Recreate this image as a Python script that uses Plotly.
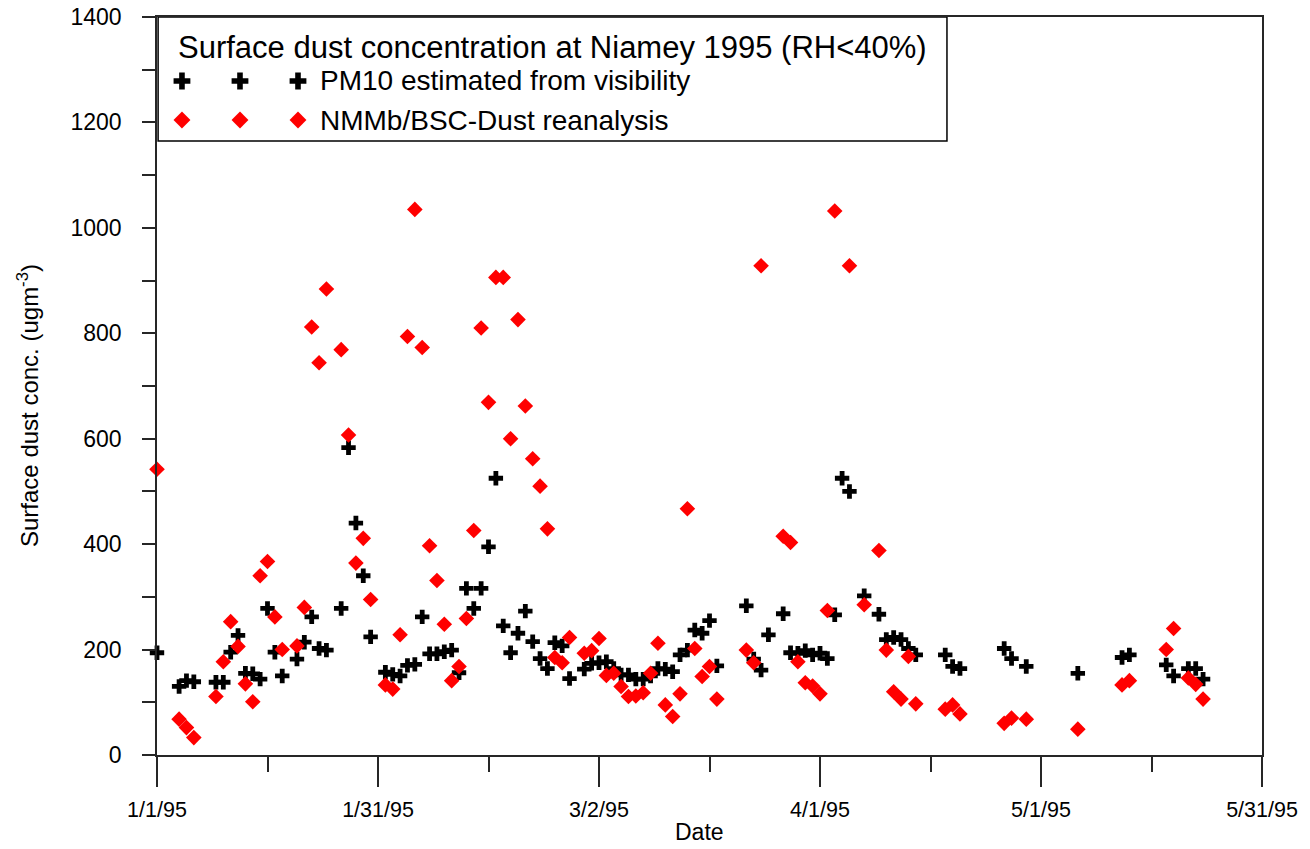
import plotly.graph_objects as go

# ---------------- data ----------------
pm10_dates = [
    "1995-01-01", "1995-01-04", "1995-01-05", "1995-01-06", "1995-01-09", "1995-01-10",
    "1995-01-11", "1995-01-12", "1995-01-13", "1995-01-14", "1995-01-15", "1995-01-16",
    "1995-01-17", "1995-01-18", "1995-01-20", "1995-01-21", "1995-01-22", "1995-01-23",
    "1995-01-24", "1995-01-26", "1995-01-27", "1995-01-28", "1995-01-29", "1995-01-30",
    "1995-02-01", "1995-02-02", "1995-02-03", "1995-02-04", "1995-02-05", "1995-02-06",
    "1995-02-07", "1995-02-08", "1995-02-09", "1995-02-10", "1995-02-11", "1995-02-12",
    "1995-02-13", "1995-02-14", "1995-02-15", "1995-02-16", "1995-02-17", "1995-02-18",
    "1995-02-19", "1995-02-20", "1995-02-21", "1995-02-22", "1995-02-23", "1995-02-24",
    "1995-02-25", "1995-02-26", "1995-02-28", "1995-03-01", "1995-03-02", "1995-03-03",
    "1995-03-04", "1995-03-05", "1995-03-06", "1995-03-07", "1995-03-08", "1995-03-09",
    "1995-03-10", "1995-03-11", "1995-03-12", "1995-03-13", "1995-03-14", "1995-03-15",
    "1995-03-16", "1995-03-17", "1995-03-18", "1995-03-22", "1995-03-23", "1995-03-24",
    "1995-03-25", "1995-03-27", "1995-03-28", "1995-03-29", "1995-03-30", "1995-03-31",
    "1995-04-01", "1995-04-02", "1995-04-03", "1995-04-04", "1995-04-05", "1995-04-07",
    "1995-04-09", "1995-04-10", "1995-04-11", "1995-04-12", "1995-04-13", "1995-04-14",
    "1995-04-18", "1995-04-19", "1995-04-20", "1995-04-26", "1995-04-27", "1995-04-29",
    "1995-05-06", "1995-05-12", "1995-05-13", "1995-05-18", "1995-05-19", "1995-05-21",
    "1995-05-22", "1995-05-23",
]
pm10_values = [
    194, 130, 141, 139, 138, 138,
    195, 227, 155, 154, 144, 278,
    195, 150, 182, 214, 262, 202,
    199, 278, 583, 440, 340, 224,
    157, 153, 150, 170, 172, 262,
    192, 192, 196, 199, 156, 316,
    278, 316, 395, 525, 245, 194,
    231, 273, 215, 183, 164, 213,
    207, 145, 163, 174, 175, 177,
    164, 152, 152, 144, 144, 150,
    164, 163, 158, 190, 199, 237,
    231, 255, 169, 283, 182, 161,
    228, 268, 194, 193, 198, 190,
    193, 183, 266, 525, 500, 302,
    267, 219, 223, 219, 202, 190,
    190, 168, 164, 202, 183, 168,
    155, 185, 190, 171, 150, 164,
    164, 144,
]

model_dates = [
    "1995-01-01", "1995-01-04", "1995-01-05", "1995-01-06", "1995-01-09", "1995-01-10",
    "1995-01-11", "1995-01-12", "1995-01-13", "1995-01-14", "1995-01-15", "1995-01-16",
    "1995-01-17", "1995-01-18", "1995-01-20", "1995-01-21", "1995-01-22", "1995-01-23",
    "1995-01-24", "1995-01-26", "1995-01-27", "1995-01-28", "1995-01-29", "1995-01-30",
    "1995-02-01", "1995-02-02", "1995-02-03", "1995-02-04", "1995-02-05", "1995-02-06",
    "1995-02-07", "1995-02-08", "1995-02-09", "1995-02-10", "1995-02-11", "1995-02-12",
    "1995-02-13", "1995-02-14", "1995-02-15", "1995-02-16", "1995-02-17", "1995-02-18",
    "1995-02-19", "1995-02-20", "1995-02-21", "1995-02-22", "1995-02-23", "1995-02-24",
    "1995-02-25", "1995-02-26", "1995-02-28", "1995-03-01", "1995-03-02", "1995-03-03",
    "1995-03-04", "1995-03-05", "1995-03-06", "1995-03-07", "1995-03-08", "1995-03-09",
    "1995-03-10", "1995-03-11", "1995-03-12", "1995-03-13", "1995-03-14", "1995-03-15",
    "1995-03-16", "1995-03-17", "1995-03-18", "1995-03-22", "1995-03-23", "1995-03-24",
    "1995-03-27", "1995-03-28", "1995-03-29", "1995-03-30", "1995-03-31", "1995-04-01",
    "1995-04-02", "1995-04-03", "1995-04-05", "1995-04-07", "1995-04-09", "1995-04-10",
    "1995-04-11", "1995-04-12", "1995-04-13", "1995-04-14", "1995-04-18", "1995-04-19",
    "1995-04-20", "1995-04-26", "1995-04-27", "1995-04-29", "1995-05-06", "1995-05-12",
    "1995-05-13", "1995-05-18", "1995-05-19", "1995-05-21", "1995-05-22", "1995-05-23",
]
model_values = [
    542, 68, 52, 33, 111, 177,
    253, 206, 135, 101, 340, 367,
    262, 200, 207, 280, 812, 744,
    884, 769, 607, 364, 411, 295,
    133, 125, 228, 794, 1035, 773,
    397, 331, 248, 141, 168, 259,
    426, 810, 669, 906, 906, 600,
    826, 662, 562, 510, 429, 185,
    175, 223, 193, 198, 221, 151,
    155, 130, 111, 112, 118, 155,
    212, 95, 73, 116, 467, 202,
    149, 168, 106, 199, 175, 928,
    415, 403, 177, 137, 131, 116,
    274, 1032, 928, 285, 388, 199,
    120, 106, 187, 97, 87, 95,
    78, 60, 70, 68, 49, 133,
    141, 200, 240, 146, 134, 106,
]

major_tick_dates = ["1995-01-01", "1995-01-31", "1995-03-02", "1995-04-01", "1995-05-01", "1995-05-31"]
major_tick_labels = ["1/1/95", "1/31/95", "3/2/95", "4/1/95", "5/1/95", "5/31/95"]
minor_tick_dates = ["1995-01-16", "1995-02-15", "1995-03-17", "1995-04-16", "1995-05-16"]

legend_title = "Surface dust concentration at Niamey 1995 (RH<40%)"
pm10_name = "PM10 estimated from visibility"
model_name = "NMMb/BSC-Dust reanalysis"
x_title = "Date"
y_title = "Surface dust conc. (ugm<sup>-3</sup>)"

# legend sample marker positions (fractions of the plot area)
legend_sample_x = [0.0226, 0.0751, 0.1276]

FONT = "Liberation Sans, Arial, sans-serif"
AXIS_COLOR = "#262626"

fig = go.Figure()

fig.add_trace(go.Scatter(
    x=pm10_dates, y=pm10_values, mode="markers", name=pm10_name,
    marker=dict(symbol="cross", size=12, color="black", line=dict(width=0)),
    cliponaxis=False, showlegend=False,
))
fig.add_trace(go.Scatter(
    x=model_dates, y=model_values, mode="markers", name=model_name,
    marker=dict(symbol="diamond", size=12, color="#ff0000", line=dict(width=0)),
    cliponaxis=False, showlegend=False,
))

# legend samples on an overlay axis spanning [0, 1]
fig.add_trace(go.Scatter(
    x=legend_sample_x, y=[0.9133] * 3, xaxis="x2", yaxis="y2", mode="markers",
    marker=dict(symbol="cross", size=14, color="black", line=dict(width=0)),
    showlegend=False, hoverinfo="skip", cliponaxis=False,
))
fig.add_trace(go.Scatter(
    x=legend_sample_x, y=[0.8604] * 3, xaxis="x2", yaxis="y2", mode="markers",
    marker=dict(symbol="diamond", size=13, color="#ff0000", line=dict(width=0)),
    showlegend=False, hoverinfo="skip", cliponaxis=False,
))

fig.update_layout(
    width=1310, height=849,
    margin=dict(l=157, r=48, t=17, b=94, pad=0),
    paper_bgcolor="white", plot_bgcolor="white",
    font=dict(family=FONT, color="black"),
    showlegend=False,
    xaxis=dict(
        type="date",
        range=["1995-01-01", "1995-05-31"],
        automargin=False,
        tickmode="array", tickvals=major_tick_dates, ticktext=major_tick_labels,
        ticks="outside", ticklen=30, tickwidth=1.5, tickcolor=AXIS_COLOR,
        minor=dict(tickmode="array", tickvals=minor_tick_dates, ticks="outside",
                   ticklen=15, tickwidth=1.5, tickcolor=AXIS_COLOR, showgrid=False),
        showline=True, linecolor=AXIS_COLOR, linewidth=1.5, mirror=True,
        showgrid=False, zeroline=False,
        tickfont=dict(size=21.5, family=FONT),
        ticklabelstandoff=4,
    ),
    yaxis=dict(
        range=[0, 1400], dtick=200, tick0=0,
        automargin=False,
        ticks="outside", ticklen=13, tickwidth=1.5, tickcolor=AXIS_COLOR,
        minor=dict(dtick=100, ticks="outside", ticklen=13, tickwidth=1.5,
                   tickcolor=AXIS_COLOR, showgrid=False),
        showline=True, linecolor=AXIS_COLOR, linewidth=1.5, mirror=True,
        showgrid=False, zeroline=False,
        tickfont=dict(size=23, family=FONT),
        ticklabelstandoff=16,
    ),
    xaxis2=dict(overlaying="x", range=[0, 1], visible=False, fixedrange=True),
    yaxis2=dict(overlaying="y", range=[0, 1], visible=False, fixedrange=True),
    shapes=[dict(type="rect", xref="paper", yref="paper",
                 x0=0.001, x1=0.7149, y0=0.832, y1=1.0,
                 line=dict(color="black", width=1.5), layer="below")],
    annotations=[
        dict(text=legend_title, xref="paper", yref="paper", x=0.3575, y=0.9593,
             xanchor="center", yanchor="middle", showarrow=False,
             font=dict(size=31, family=FONT, color="black")),
        dict(text=pm10_name, xref="paper", yref="paper", x=0.1457, y=0.9133,
             xanchor="left", yanchor="middle", showarrow=False,
             font=dict(size=28, family=FONT, color="black")),
        dict(text=model_name, xref="paper", yref="paper", x=0.1457, y=0.8604,
             xanchor="left", yanchor="middle", showarrow=False,
             font=dict(size=28, family=FONT, color="black")),
        dict(text=x_title, xref="paper", yref="paper", x=(699 - 157) / 1105,
             y=-(832 - 755) / 738, xanchor="center", yanchor="middle",
             showarrow=False, font=dict(size=23, family=FONT, color="black")),
        dict(text=y_title, xref="paper", yref="paper", x=-(157 - 28) / 1105,
             y=(755 - 406) / 738, xanchor="center", yanchor="middle", textangle=-90,
             showarrow=False, font=dict(size=24, family=FONT, color="black")),
    ],
)

fig.write_html("out.html")
